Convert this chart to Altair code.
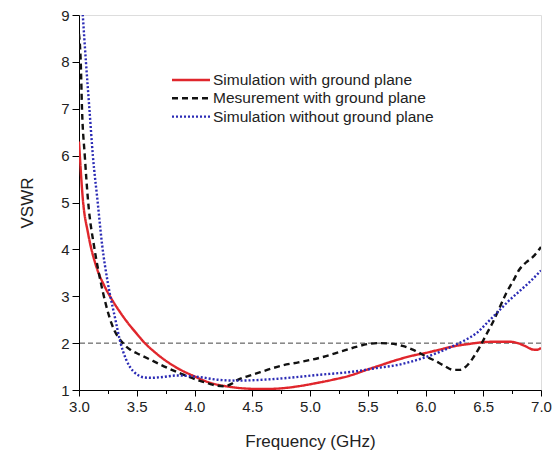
import altair as alt
import pandas as pd

FONT = "Liberation Sans"

series_names = ["Simulation with ground plane", "Mesurement with ground plane", "Simulation without ground plane"]
series_colors = ["#e0262c", "#111111", "#2b2bb5"]
series_dash = [[1, 0], [6, 4], [2, 2]]

red_f = [3.0, 3.034, 3.078, 3.15, 3.22, 3.28, 3.35, 3.42, 3.5, 3.57, 3.65, 3.72, 3.85, 4.0, 4.14, 4.3, 4.45, 4.6, 4.77, 4.9, 5.06, 5.2, 5.35, 5.49, 5.6, 5.75, 5.9, 6.0, 6.12, 6.24, 6.37, 6.5, 6.6, 6.72, 6.8, 6.86, 6.94, 6.97, 7.0]
red_v = [6.3, 5.05, 4.35, 3.63, 3.22, 2.95, 2.68, 2.44, 2.2, 2.0, 1.82, 1.68, 1.47, 1.29, 1.15, 1.07, 1.03, 1.02, 1.04, 1.08, 1.15, 1.22, 1.31, 1.43, 1.52, 1.64, 1.74, 1.79, 1.86, 1.93, 1.98, 2.02, 2.03, 2.03, 2.0, 1.94, 1.86, 1.86, 1.9]

blk_f = [3.0, 3.015, 3.026, 3.05, 3.078, 3.135, 3.19, 3.28, 3.38, 3.45, 3.53, 3.64, 3.74, 3.88, 4.03, 4.12, 4.2, 4.26, 4.32, 4.37, 4.47, 4.57, 4.67, 4.77, 4.9, 5.0, 5.12, 5.23, 5.32, 5.4, 5.5, 5.6, 5.7, 5.8, 5.9, 6.0, 6.07, 6.16, 6.24, 6.3, 6.35, 6.41, 6.47, 6.53, 6.58, 6.64, 6.7, 6.76, 6.81, 6.87, 6.93, 7.0]
blk_v = [8.6, 8.0, 7.0, 6.0, 5.05, 4.0, 3.28, 2.43, 2.0, 1.85, 1.75, 1.62, 1.5, 1.35, 1.21, 1.14, 1.09, 1.08, 1.13, 1.21, 1.3, 1.38, 1.46, 1.53, 1.59, 1.64, 1.71, 1.79, 1.86, 1.92, 1.98, 2.0, 1.99, 1.94, 1.85, 1.72, 1.64, 1.52, 1.43, 1.43, 1.5, 1.68, 1.92, 2.2, 2.43, 2.75, 3.07, 3.33, 3.56, 3.72, 3.84, 4.05]

blu_f = [3.03, 3.06, 3.09, 3.12, 3.16, 3.2, 3.25, 3.31, 3.36, 3.41, 3.47, 3.51, 3.56, 3.62, 3.7, 3.85, 4.03, 4.2, 4.37, 4.6, 4.77, 5.06, 5.4, 5.58, 5.75, 6.0, 6.12, 6.24, 6.34, 6.44, 6.54, 6.64, 6.72, 6.81, 6.9, 7.0]
blu_v = [9.1, 8.0, 7.0, 6.0, 5.05, 4.1, 3.28, 2.56, 2.0, 1.64, 1.4, 1.32, 1.27, 1.26, 1.27, 1.31, 1.28, 1.22, 1.2, 1.22, 1.25, 1.32, 1.4, 1.47, 1.53, 1.7, 1.81, 1.94, 2.06, 2.21, 2.45, 2.7, 2.9, 3.1, 3.3, 3.55]

x_ticks = [3.0 + 0.25 * i for i in range(17)]
y_ticks = [1.0 + 0.5 * i for i in range(17)]
ref_level = [2.0]

rows = []
for name, fs, vs in zip(series_names, [red_f, blk_f, blu_f], [red_v, blk_v, blu_v]):
    for f, v in zip(fs, vs):
        rows.append({"f": f, "v": v, "s": name})
df = pd.DataFrame(rows)
legend_df = pd.DataFrame({"s": series_names})

xscale = alt.Scale(domain=[3, 7], nice=False, zero=False)
yscale = alt.Scale(domain=[1, 9], nice=False, zero=False)

common_axis = dict(
    grid=False, labelFontSize=15, titleFontSize=17, titleFontWeight="normal",
    domainColor="black", tickColor="black", labelColor="#222", titleColor="#222",
    labelFont=FONT, titleFont=FONT, labelFlush=False, labelOverlap=False,
)
xaxis = alt.Axis(
    title="Frequency (GHz)", values=x_ticks,
    labelExpr="datum.value % 0.5 ? '' : format(datum.value, '.1f')",
    tickSize={"condition": {"test": "datum.value % 0.5 !== 0", "value": 3.5}, "value": 6},
    titlePadding=19, labelPadding=3, **common_axis,
)
yaxis = alt.Axis(
    title="VSWR", values=y_ticks,
    labelExpr="datum.value % 1 ? '' : format(datum.value, 'd')",
    tickSize={"condition": {"test": "datum.value % 1 !== 0", "value": 3.5}, "value": 7},
    titlePadding=24, labelPadding=3, **common_axis,
)

lines = alt.Chart(df).mark_line(interpolate="monotone", clip=True, strokeWidth=2.4).encode(
    x=alt.X("f:Q", scale=xscale, axis=xaxis),
    y=alt.Y("v:Q", scale=yscale, axis=yaxis),
    color=alt.Color("s:N", scale=alt.Scale(domain=series_names, range=series_colors), legend=None),
    strokeDash=alt.StrokeDash("s:N", scale=alt.Scale(domain=series_names, range=series_dash), legend=None),
)

ref = alt.Chart(pd.DataFrame({"y": ref_level})).mark_rule(color="#444", strokeWidth=1, strokeDash=[5, 3]).encode(
    y=alt.Y("y:Q", scale=yscale)
)

legend_layers = []
for i, (name, col, dash) in enumerate(zip(series_names, series_colors, series_dash)):
    sub = alt.Chart(legend_df).transform_filter(alt.datum.s == name)
    ypix = 65 + 18.3 * i
    legend_layers.append(
        sub.mark_rule(color=col, strokeWidth=2.4, strokeDash=dash).encode(
            x=alt.value(93), x2=alt.value(131), y=alt.value(ypix)
        )
    )
    legend_layers.append(
        sub.mark_text(align="left", baseline="middle", font=FONT, fontSize=15.5, color="#222").encode(
            x=alt.value(134), y=alt.value(ypix), text="s:N"
        )
    )

chart = alt.layer(ref, lines, *legend_layers).properties(
    width=462, height=375,
    autosize=alt.AutoSizeParams(type="none"),
    padding={"left": 71, "top": 7, "right": 11, "bottom": 66},
).configure_view(stroke="black", strokeWidth=1.2).configure(background="white")

chart.save("out.html", embed_options={"renderer": "svg", "actions": False})
